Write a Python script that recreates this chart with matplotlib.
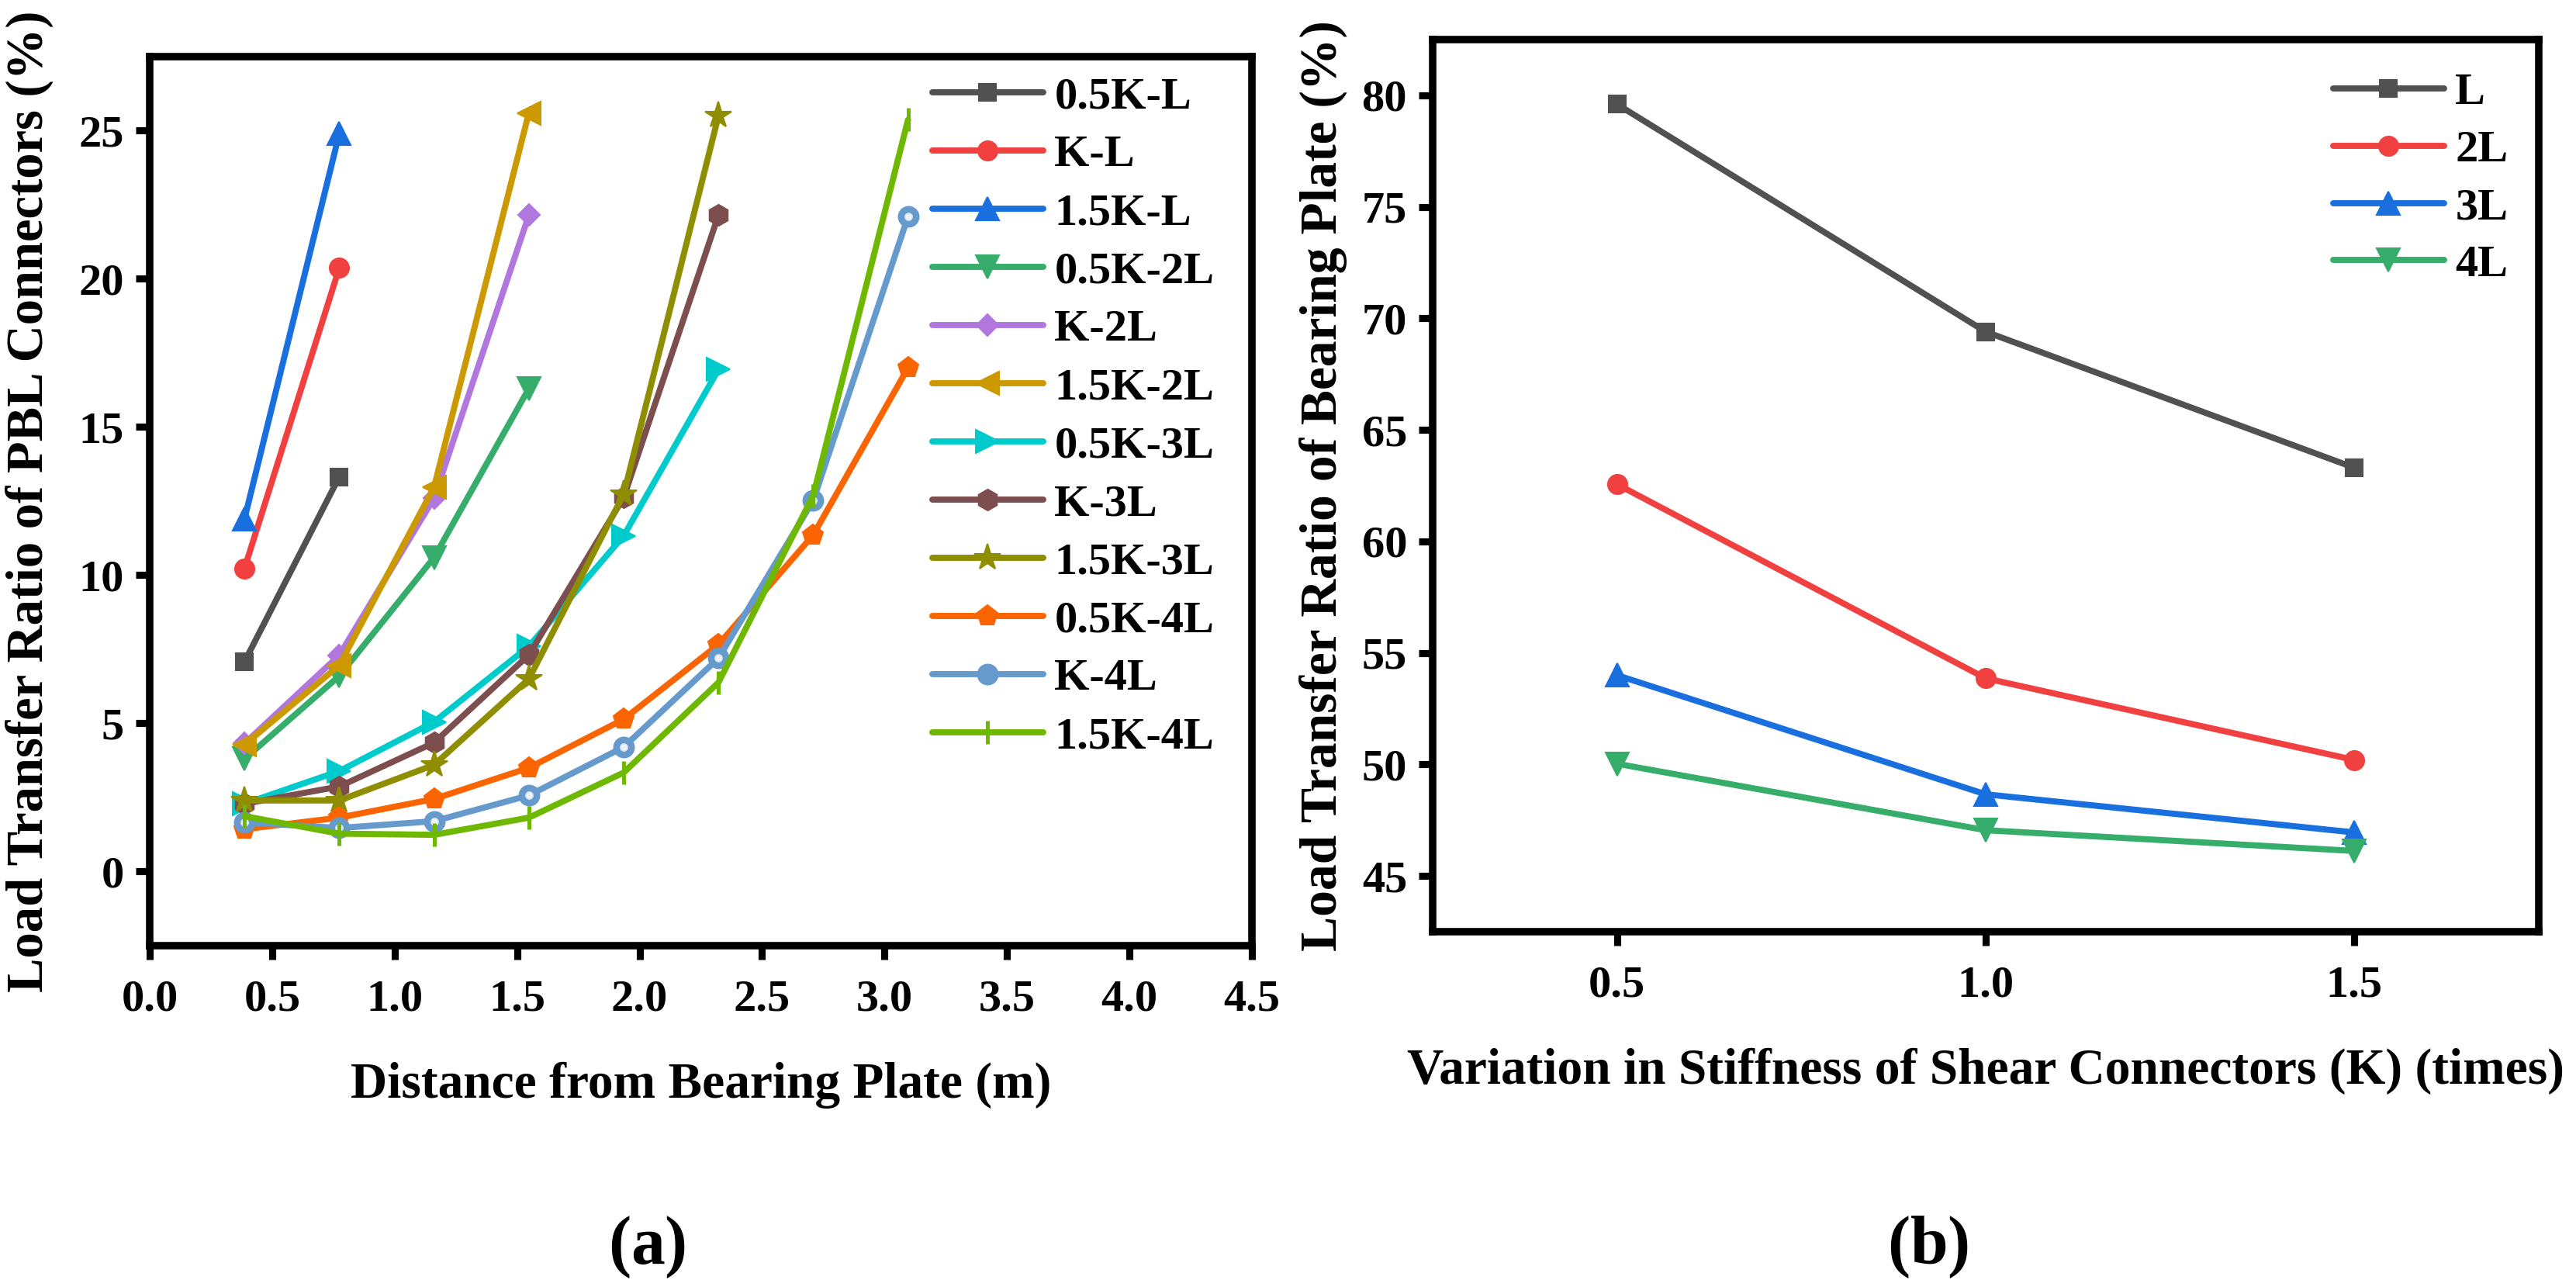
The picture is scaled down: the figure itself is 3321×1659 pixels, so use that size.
import matplotlib
matplotlib.use("Agg")
import matplotlib.pyplot as plt

plt.rcParams["font.family"] = ["Liberation Serif", "DejaVu Serif"]
plt.rcParams["font.weight"] = "bold"
plt.rcParams["mathtext.fontset"] = "custom"
plt.rcParams["mathtext.rm"] = "Liberation Serif"
plt.rcParams["mathtext.bf"] = "Liberation Serif:bold"

# ---- data, panel (a) ----
dist = [0.387, 0.774, 1.161, 1.548, 1.935, 2.322, 2.709, 3.096]
series_a = {
    "0.5K-L": [7.08, 13.32],
    "K-L": [10.23, 20.37],
    "1.5K-L": [11.9, 24.9],
    "0.5K-2L": [3.8, 6.6, 10.6, 16.3],
    "K-2L": [4.32, 7.3, 12.6, 22.15],
    "1.5K-2L": [4.28, 6.96, 12.97, 25.6],
    "0.5K-3L": [2.29, 3.39, 5.05, 7.6, 11.33, 16.94],
    "K-3L": [2.29, 2.87, 4.35, 7.31, 12.62, 22.15],
    "1.5K-3L": [2.4, 2.4, 3.6, 6.5, 12.73, 25.5],
    "0.5K-4L": [1.43, 1.82, 2.45, 3.5, 5.14, 7.66, 11.36, 17.0],
    "K-4L": [1.66, 1.47, 1.7, 2.57, 4.2, 7.2, 12.52, 22.1],
    "1.5K-4L": [1.87, 1.28, 1.24, 1.82, 3.34, 6.38, 12.69, 25.37],
}

# ---- data, panel (b) ----
stiffness = [0.5, 1.0, 1.5]
series_b = {
    "L": [79.6, 69.4, 63.3],
    "2L": [62.56, 53.86, 50.2],
    "3L": [54.0, 48.66, 46.95],
    "4L": [50.03, 47.05, 46.12],
}

colors = ["#515151", "#F14040", "#1A6FDF", "#37AD6B", "#B177DE", "#CC9900",
          "#00CBCC", "#7D4E4E", "#8E8E00", "#FB6501", "#6699CC", "#6FB802"]
markers = ["s", "o", "^", "v", "D", "<", ">", "h", "*", "p", "o", "|"]
msizes = [5.5, 6, 7, 7, 4.6, 7, 7, 6.5, 8.5, 6.8, 6.2, 7]

fig = plt.figure(figsize=(11.07, 5.53), dpi=300)
ax1 = fig.add_axes([0.05811, 0.26522, 0.42788, 0.69078])
ax2 = fig.add_axes([0.55616, 0.27607, 0.42939, 0.69319])

lw = 1.9
for i, (name, vals) in enumerate(series_a.items()):
    x = dist[:len(vals)]
    ax1.plot(x, vals, color=colors[i], lw=lw, marker=markers[i],
             ms=msizes[i], mew=1.2 if markers[i] == "|" else 0.5,
             mec=colors[i], label=name, solid_capstyle="round")
    if name == "K-4L":
        # little highlight to mimic the shaded ball marker
        ax1.plot(x, vals, ls="none", marker="o", ms=1.6, color="white",
                 alpha=0.75)

for i, (name, vals) in enumerate(series_b.items()):
    ax2.plot(stiffness, vals, color=colors[i], lw=lw, marker=markers[i],
             ms=msizes[i], mew=0.5, mec=colors[i], label=name,
             solid_capstyle="round")

ax1.set_xlim(0, 4.5)
ax1.set_ylim(-2.5, 27.5)
ax1.set_xticks([0.0, 0.5, 1.0, 1.5, 2.0, 2.5, 3.0, 3.5, 4.0, 4.5])
ax1.set_yticks([0, 5, 10, 15, 20, 25])
ax1.set_xticklabels(["0.0", "0.5", "1.0", "1.5", "2.0", "2.5", "3.0", "3.5", "4.0", "4.5"])

ax2.set_xlim(0.25, 1.75)
ax2.set_ylim(42.5, 82.5)
ax2.set_xticks(stiffness)
ax2.set_xticklabels(["0.5", "1.0", "1.5"])
ax2.set_yticks([45, 50, 55, 60, 65, 70, 75, 80])

for ax in (ax1, ax2):
    for sp in ax.spines.values():
        sp.set_linewidth(2.3)
    ax.tick_params(direction="out", length=4.4, width=2.2, labelsize=14,
                   top=False, right=False)
    ax.tick_params(axis="x", pad=6)
    ax.tick_params(axis="y", pad=3.5)

ax1.set_xlabel("Distance from Bearing Plate (m)", fontsize=15.7,
               fontweight="bold", labelpad=13)
ax1.set_ylabel("Load Transfer Ratio of PBL Connectors (%)", fontsize=16,
               fontweight="bold")
ax1.yaxis.set_label_coords(-0.087, 0.5)

ax2.set_xlabel("Variation in Stiffness of Shear Connectors (K) (times)",
               fontsize=15.7, fontweight="bold", labelpad=13)
ax2.set_ylabel("Load Transfer Ratio of Bearing Plate (%)", fontsize=16.2,
               fontweight="bold")
ax2.yaxis.set_label_coords(-0.077, 0.5)

leg_kw = dict(frameon=False, fontsize=14, handlelength=2.45,
              handletextpad=0.25, borderpad=0, borderaxespad=0,
              loc="upper left")
ax1.legend(bbox_to_anchor=(0.71, 0.978), labelspacing=0.38, **leg_kw)
ax2.legend(bbox_to_anchor=(0.814, 0.963), labelspacing=0.36, **leg_kw)

fig.text(834 / 3321, 1 - 1608 / 1659, r"$\mathrm{(}\mathbf{a}\mathrm{)}$",
         fontsize=21, ha="center", va="center")
fig.text(2486 / 3321, 1 - 1608 / 1659, r"$\mathrm{(}\mathbf{b}\mathrm{)}$",
         fontsize=21, ha="center", va="center")

fig.savefig("out.png", dpi=300)
